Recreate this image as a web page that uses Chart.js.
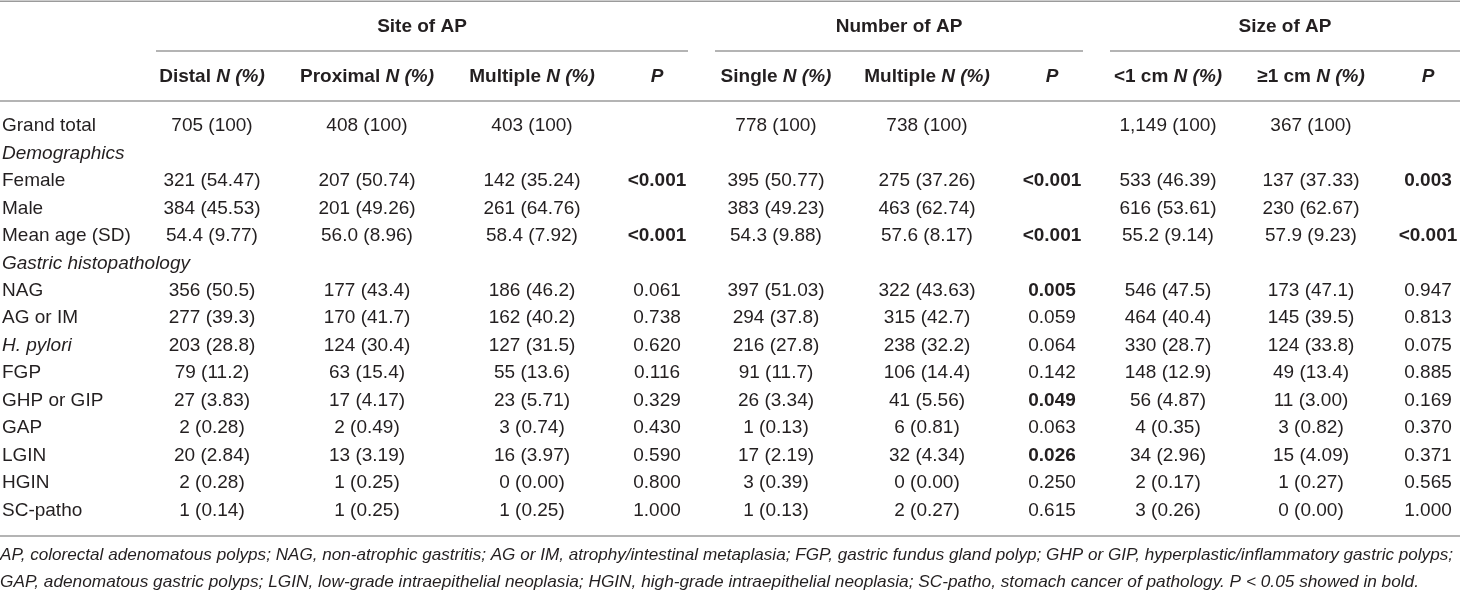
<!DOCTYPE html>
<html>
<head>
<meta charset="utf-8">
<script src="https://cdn.jsdelivr.net/npm/chart.js@4.4.1/dist/chart.umd.min.js"></script>
<style>
  html, body { margin: 0; padding: 0; background: #fff; }
  #wrap { width: 1460px; height: 591px; position: relative; }
</style>
</head>
<body>
<div id="wrap"><canvas id="tableChart"></canvas></div>
<script>
// table content
const rowLabels = ['Grand total', 'Demographics', 'Female', 'Male', 'Mean age (SD)', 'Gastric histopathology',
  'NAG', 'AG or IM', 'H. pylori', 'FGP', 'GHP or GIP', 'GAP', 'LGIN', 'HGIN', 'SC-patho'];
const italicRows = ['Demographics', 'Gastric histopathology', 'H. pylori'];

const groups = ['Site of AP', 'Number of AP', 'Size of AP'];
const subHeads = [['Distal', ' N (%)'], ['Proximal', ' N (%)'], ['Multiple', ' N (%)'], ['', 'P'],
  ['Single', ' N (%)'], ['Multiple', ' N (%)'], ['', 'P'],
  ['<1 cm', ' N (%)'], ['≥1 cm', ' N (%)'], ['', 'P']];

const distal = ['705 (100)', '', '321 (54.47)', '384 (45.53)', '54.4 (9.77)', '', '356 (50.5)', '277 (39.3)', '203 (28.8)', '79 (11.2)', '27 (3.83)', '2 (0.28)', '20 (2.84)', '2 (0.28)', '1 (0.14)'];
const proximal = ['408 (100)', '', '207 (50.74)', '201 (49.26)', '56.0 (8.96)', '', '177 (43.4)', '170 (41.7)', '124 (30.4)', '63 (15.4)', '17 (4.17)', '2 (0.49)', '13 (3.19)', '1 (0.25)', '1 (0.25)'];
const siteMultiple = ['403 (100)', '', '142 (35.24)', '261 (64.76)', '58.4 (7.92)', '', '186 (46.2)', '162 (40.2)', '127 (31.5)', '55 (13.6)', '23 (5.71)', '3 (0.74)', '16 (3.97)', '0 (0.00)', '1 (0.25)'];
const siteP = ['', '', '<0.001', '', '<0.001', '', '0.061', '0.738', '0.620', '0.116', '0.329', '0.430', '0.590', '0.800', '1.000'];
const single = ['778 (100)', '', '395 (50.77)', '383 (49.23)', '54.3 (9.88)', '', '397 (51.03)', '294 (37.8)', '216 (27.8)', '91 (11.7)', '26 (3.34)', '1 (0.13)', '17 (2.19)', '3 (0.39)', '1 (0.13)'];
const numMultiple = ['738 (100)', '', '275 (37.26)', '463 (62.74)', '57.6 (8.17)', '', '322 (43.63)', '315 (42.7)', '238 (32.2)', '106 (14.4)', '41 (5.56)', '6 (0.81)', '32 (4.34)', '0 (0.00)', '2 (0.27)'];
const numP = ['', '', '<0.001', '', '<0.001', '', '0.005', '0.059', '0.064', '0.142', '0.049', '0.063', '0.026', '0.250', '0.615'];
const smallSize = ['1,149 (100)', '', '533 (46.39)', '616 (53.61)', '55.2 (9.14)', '', '546 (47.5)', '464 (40.4)', '330 (28.7)', '148 (12.9)', '56 (4.87)', '4 (0.35)', '34 (2.96)', '2 (0.17)', '3 (0.26)'];
const largeSize = ['367 (100)', '', '137 (37.33)', '230 (62.67)', '57.9 (9.23)', '', '173 (47.1)', '145 (39.5)', '124 (33.8)', '49 (13.4)', '11 (3.00)', '3 (0.82)', '15 (4.09)', '1 (0.27)', '0 (0.00)'];
const sizeP = ['', '', '0.003', '', '<0.001', '', '0.947', '0.813', '0.075', '0.885', '0.169', '0.370', '0.371', '0.565', '1.000'];

const footnotes = [
  'AP, colorectal adenomatous polyps; NAG, non-atrophic gastritis; AG or IM, atrophy/intestinal metaplasia; FGP, gastric fundus gland polyp; GHP or GIP, hyperplastic/inflammatory gastric polyps;',
  'GAP, adenomatous gastric polyps; LGIN, low-grade intraepithelial neoplasia; HGIN, high-grade intraepithelial neoplasia; SC-patho, stomach cancer of pathology. P < 0.05 showed in bold.'
];

const columns = [distal, proximal, siteMultiple, siteP, single, numMultiple, numP, smallSize, largeSize, sizeP];

// layout (pixels on x scale, row units on y scale)
const colX = [212, 367, 532, 657, 776, 927, 1052, 1168, 1311, 1428];
const groupSpan = [[156, 688], [715, 1083], [1110, 1460]];
const labelX = 2;
const ROW_GROUP = -3.61, ROW_SUB = -1.785;
const RULE_TOP = -4.54, RULE_GROUP = -2.73, RULE_HEAD = -0.91, RULE_BOTTOM = 14.94;
const ROW_FOOT = [15.63, 16.61];
const footWidth = [1453, 1419];

const FAMILY = "'Liberation Sans', Arial, Helvetica, sans-serif";
const INK = '#231f20';
const RULE = '#9b9b9b';

const isBold = s => s.startsWith('<') || (s !== '' && parseFloat(s) < 0.05);

const datasets = [{
  label: 'labels',
  data: rowLabels.map((t, i) => ({ x: labelX, y: i, text: t, align: 'left', italic: italicRows.includes(t) })),
  pointRadius: 0
}];
columns.forEach((col, c) => {
  datasets.push({
    label: 'col' + c,
    data: col.map((t, i) => ({ x: colX[c], y: i, text: t, align: 'center', bold: c % 3 === 0 || c === 9 ? isBold(t) : false })),
    pointRadius: 0
  });
});

function runsWidth(ctx, runs) {
  let w = 0;
  runs.forEach(r => { ctx.font = r.font; w += ctx.measureText(r.text).width; });
  return w;
}
function drawRuns(ctx, runs, cx, y) {
  let x = cx - runsWidth(ctx, runs) / 2;
  runs.forEach(r => {
    ctx.font = r.font;
    ctx.textAlign = 'left';
    ctx.fillText(r.text, x, y);
    x += ctx.measureText(r.text).width;
  });
}

const tablePlugin = {
  id: 'tableText',
  afterDraw(chart) {
    const ctx = chart.ctx;
    const xs = chart.scales.x, ys = chart.scales.y;
    ctx.save();
    ctx.fillStyle = INK;
    ctx.textBaseline = 'middle';

    // rules
    ctx.strokeStyle = RULE;
    ctx.lineWidth = 1.5;
    const hline = (x0, x1, r) => {
      const y = ys.getPixelForValue(r);
      ctx.beginPath();
      ctx.moveTo(xs.getPixelForValue(x0), y);
      ctx.lineTo(xs.getPixelForValue(x1), y);
      ctx.stroke();
    };
    hline(0, 1460, RULE_TOP);
    hline(0, 1460, RULE_HEAD);
    hline(0, 1460, RULE_BOTTOM);
    groupSpan.forEach(s => hline(s[0], s[1], RULE_GROUP));

    // group headers
    ctx.font = 'bold 19px ' + FAMILY;
    ctx.textAlign = 'center';
    groups.forEach((g, i) => {
      const cx = xs.getPixelForValue((groupSpan[i][0] + groupSpan[i][1]) / 2);
      ctx.fillText(g, cx, ys.getPixelForValue(ROW_GROUP));
    });

    // sub headers
    subHeads.forEach((h, c) => {
      const runs = [];
      if (h[0]) runs.push({ text: h[0], font: 'bold 19px ' + FAMILY });
      runs.push({ text: h[1], font: 'italic bold 19px ' + FAMILY });
      drawRuns(ctx, runs, xs.getPixelForValue(colX[c]), ys.getPixelForValue(ROW_SUB));
    });

    // body cells, positioned by the chart's point elements
    chart.data.datasets.forEach((ds, d) => {
      const meta = chart.getDatasetMeta(d);
      meta.data.forEach((pt, i) => {
        const cell = ds.data[i];
        if (!cell.text) return;
        ctx.font = (cell.italic ? 'italic ' : '') + (cell.bold ? 'bold ' : '') + '19px ' + FAMILY;
        ctx.textAlign = cell.align;
        ctx.fillText(cell.text, pt.x, pt.y);
      });
    });

    // footnote
    ctx.font = 'italic 17px ' + FAMILY;
    ctx.textAlign = 'left';
    footnotes.forEach((t, i) => {
      const w = ctx.measureText(t).width;
      const k = footWidth[i] / w;
      const y = ys.getPixelForValue(ROW_FOOT[i]);
      ctx.save();
      ctx.translate(xs.getPixelForValue(0), y);
      ctx.scale(k, 1);
      ctx.fillText(t, 0, 0);
      ctx.restore();
    });
    ctx.restore();
  }
};

const ctx = document.getElementById('tableChart');

new Chart(ctx, {
  type: 'scatter',
  data: { datasets: datasets },
  options: {
    responsive: true,
    maintainAspectRatio: false,
    animation: false,
    layout: { padding: 0 },
    plugins: { legend: { display: false }, tooltip: { enabled: false } },
    scales: {
      x: { type: 'linear', min: 0, max: 1460, display: false },
      y: { type: 'linear', min: -4.59, max: 16.94, reverse: true, display: false }
    }
  },
  plugins: [tablePlugin]
});
</script>
</body>
</html>
